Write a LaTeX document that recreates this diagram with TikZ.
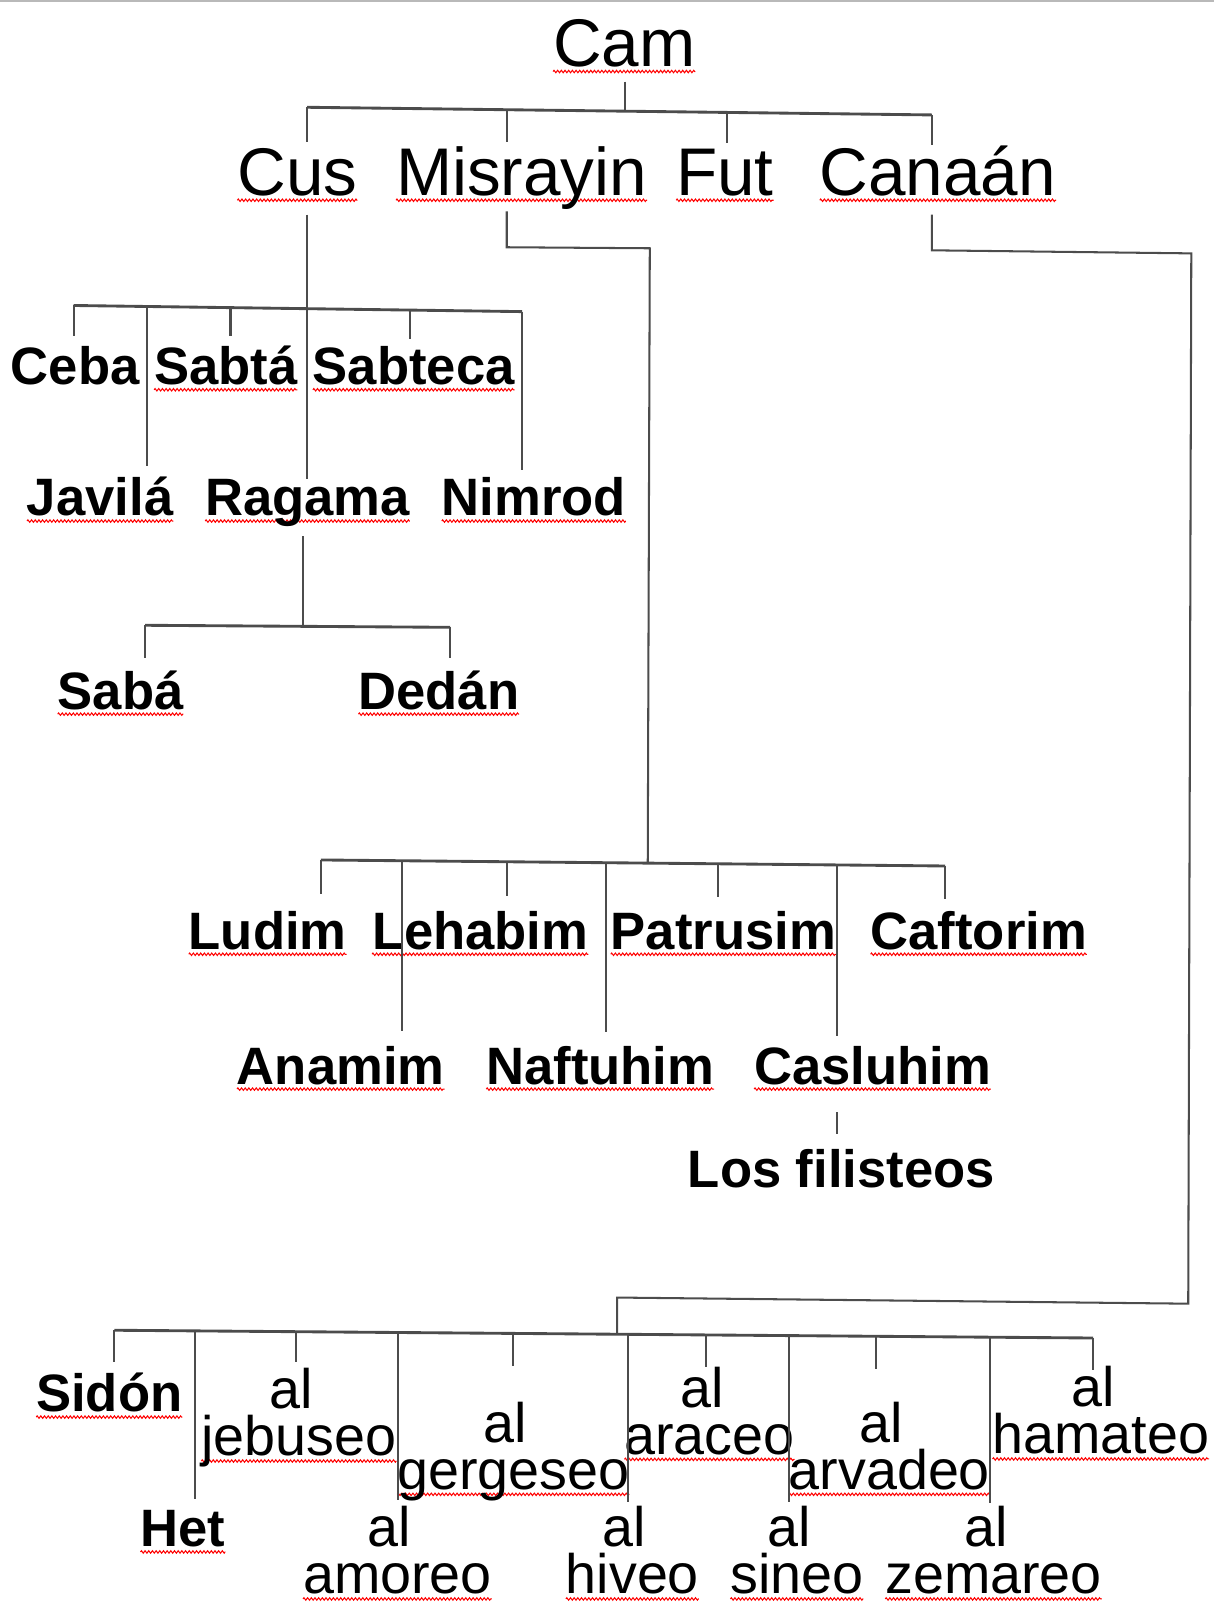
\documentclass[tikz,border=0pt]{standalone}
\usepackage{fontspec}
\setmainfont{Liberation Sans}
\usetikzlibrary{decorations.pathmorphing}
\newsavebox\sqbox
\newlength\sqlen
\tikzset{
  squig/.style={draw=red, line width=1pt, decorate,
    decoration={zigzag, amplitude=1.2pt, segment length=3.6pt}},
  labx/.style={inner sep=0pt, outer sep=0pt, anchor=base, text=black},
  bigtxt/.style={labx, font=\fontsize{66}{70}\selectfont},
  boldtxt/.style={labx, font=\bfseries\fontsize{51.5}{55}\selectfont},
  regtxt/.style={labx, font=\fontsize{54.5}{46}\selectfont},
  connln/.style={draw=black!70, line width=2pt},
  barln/.style={draw=black!70, line width=2.8pt},
}
\newcommand\sqw[1]{\sbox\sqbox{#1}\setlength\sqlen{\wd\sqbox}\leavevmode\rlap{\tikz[baseline=0pt]{\useasboundingbox (0pt,0pt); \path[squig] (0pt,-5pt) -- (\sqlen,-5pt);}}\usebox\sqbox}
\newcommand\twol[2]{\vtop{\baselineskip=46pt\lineskiplimit=-1000pt\halign{\hfil##\hfil\cr #1\kern0.28em\cr #2\cr}}}
\begin{document}
\begin{tikzpicture}[x=1pt,y=-1pt]
\useasboundingbox (0,0) rectangle (1188,1568);
\draw[gray!55, line width=2pt] (0,1) -- (1188,1);
% ---------- labels
\node[bigtxt] (cam) at (611,65) {\sqw{Cam}};
\node[bigtxt] (cus) at (291,191) {\sqw{Cus}};
\node[bigtxt] (mis) at (510.5,191) {\sqw{Misrayin}};
\node[bigtxt] (fut) at (709.5,191) {\sqw{Fut}};
\node[bigtxt] (can) at (918,191) {\sqw{Canaán}};
\node[boldtxt] (ceba) at (73.7,376.5) {Ceba};
\node[boldtxt] (sabta) at (221,376.5) {\sqw{Sabtá}};
\node[boldtxt] (sabteca) at (405,376.5) {\sqw{Sabteca}};
\node[boldtxt] (javila) at (98,505) {\sqw{Javilá}};
\node[boldtxt] (ragama) at (301,505) {\sqw{Ragama}};
\node[boldtxt] (nimrod) at (522.5,505) {\sqw{Nimrod}};
\node[boldtxt] (saba) at (118,694) {\sqw{Sabá}};
\node[boldtxt] (dedan) at (429.5,694) {\sqw{Dedán}};
\node[boldtxt] (ludim) at (262,929) {\sqw{Ludim}};
\node[boldtxt] (lehabim) at (470,929) {\sqw{Lehabim}};
\node[boldtxt] (patrusim) at (708,929) {\sqw{Patrusim}};
\node[boldtxt] (caftorim) at (958,929) {\sqw{Caftorim}};
\node[boldtxt] (anamim) at (333.5,1061) {\sqw{Anamim}};
\node[boldtxt] (naftuhim) at (587.5,1061) {\sqw{Naftuhim}};
\node[boldtxt] (casluhim) at (854,1061) {\sqw{Casluhim}};
\node[boldtxt] (filisteos) at (823.5,1162) {Los filisteos};
\node[boldtxt] (sidon) at (107,1382) {\sqw{Sidón}};
\node[boldtxt] (het) at (179,1514) {\sqw{Het}};
\node[regtxt] (jebuseo) at (292.5,1379) {\twol{al}{\sqw{jebuseo}}};
\node[regtxt] (gergeseo) at (502.5,1411.6) {\twol{al}{\sqw{gergeseo}}};
\node[regtxt] (araceo) at (694.5,1377.4) {\twol{al}{\sqw{araceo}}};
\node[regtxt] (arvadeo) at (870.5,1411.6) {\twol{al}{\sqw{arvadeo}}};
\node[regtxt] (hamateo) at (1077.5,1377) {\twol{al}{\sqw{hamateo}}};
\node[regtxt] (amoreo) at (389,1514) {\twol{al}{\sqw{amoreo}}};
\node[regtxt] (hiveo) at (619,1514) {\twol{al}{\sqw{hiveo}}};
\node[regtxt] (sineo) at (780,1514) {\twol{al}{\sqw{sineo}}};
\node[regtxt] (zemareo) at (972.5,1514) {\twol{al}{\sqw{zemareo}}};
% ---------- Cam
\coordinate (camJ) at (612,108.8);
\coordinate (cusJ) at (300.5,105);
\coordinate (misJ) at (496,107.4);
\coordinate (futJ) at (711.5,110);
\coordinate (canJ) at (912,112.5);
\draw[connln, shorten <=15pt] (cam.base -| camJ) -- (camJ);
\draw[barln] (cusJ) -- (canJ);
\draw[connln, shorten >=52pt] (cusJ) -- (cusJ |- cus.base);
\draw[connln, shorten >=52pt] (misJ) -- (misJ |- mis.base);
\draw[connln, shorten >=51pt] (futJ) -- (futJ |- fut.base);
\draw[connln, shorten >=49pt] (canJ) -- (canJ |- can.base);
% ---------- Cus
\coordinate (cebaJ) at (72,299);
\coordinate (javJ) at (144,300);
\coordinate (sabtaJ) at (225.6,301.1);
\coordinate (ragJ) at (300.5,302.1);
\coordinate (sabtecaJ) at (401,303.5);
\coordinate (nimJ) at (511,305);
\draw[connln, shorten <=19pt, shorten >=36pt] (cus.base -| ragJ) -- (ragJ |- ragama.base);
\draw[barln] (cebaJ) -- (nimJ);
\draw[connln, shorten >=47.5pt] (cebaJ) -- (cebaJ |- ceba.base);
\draw[connln, shorten >=49pt] (javJ) -- (javJ |- javila.base);
\draw[connln, shorten >=47.5pt] (sabtaJ) -- (sabtaJ |- sabta.base);
\draw[connln, shorten >=44.5pt] (sabtecaJ) -- (sabtecaJ |- sabteca.base);
\draw[connln, shorten >=45pt] (nimJ) -- (nimJ |- nimrod.base);
% ---------- Ragama
\coordinate (sabaJ) at (142,612);
\coordinate (ragK) at (297,613);
\coordinate (dedJ) at (440.6,614);
\draw[connln, shorten <=20pt] (ragama.base -| ragK) -- (ragK);
\draw[barln] (sabaJ) -- (dedJ);
\draw[connln, shorten >=50.4pt] (sabaJ) -- (sabaJ |- saba.base);
\draw[connln, shorten >=50.4pt] (dedJ) -- (dedJ |- dedan.base);
% ---------- Misrayin
\coordinate (misK) at (496,242);
\coordinate (misL) at (636,243);
\coordinate (misM) at (634,844.8);
\coordinate (ludJ) at (314,841.7);
\coordinate (anaJ) at (393.6,842.5);
\coordinate (lehJ) at (496,843.5);
\coordinate (nafJ) at (593,844.4);
\coordinate (patJ) at (702.5,845.5);
\coordinate (casJ) at (819,846.6);
\coordinate (cafJ) at (925,847.6);
\draw[connln, shorten <=16pt] (mis.base -| misK) -- (misK) -- (misL) -- (misM);
\draw[barln] (ludJ) -- (cafJ);
\draw[connln, shorten >=54pt] (ludJ) -- (ludJ |- ludim.base);
\draw[connln, shorten >=52pt] (anaJ) -- (anaJ |- anamim.base);
\draw[connln, shorten >=52pt] (lehJ) -- (lehJ |- lehabim.base);
\draw[connln, shorten >=51pt] (nafJ) -- (nafJ |- naftuhim.base);
\draw[connln, shorten >=51pt] (patJ) -- (patJ |- patrusim.base);
\draw[connln, shorten >=47pt] (casJ) -- (casJ |- casluhim.base);
\draw[connln, shorten >=49pt] (cafJ) -- (cafJ |- caftorim.base);
\draw[connln, shorten <=27.6pt, shorten >=52pt] (casluhim.base -| casJ) -- (casJ |- filisteos.base);
% ---------- Canaan
\coordinate (canK) at (912,245);
\coordinate (canL) at (1166,248);
\coordinate (canM) at (1163,1276);
\coordinate (canN) at (604,1270);
\coordinate (canO) at (604,1305.9);
\draw[connln, shorten <=19pt] (can.base -| canK) -- (canK) -- (canL) -- (canM) -- (canN) -- (canO);
\coordinate (sidJ) at (112,1302);
\coordinate (hetJ) at (191,1302.6);
\coordinate (jebJ) at (290,1303.4);
\coordinate (amoJ) at (390,1304.2);
\coordinate (gerJ) at (502,1305.1);
\coordinate (hivJ) at (615,1306);
\coordinate (araJ) at (691,1306.6);
\coordinate (sinJ) at (772,1307.2);
\coordinate (arvJ) at (857.7,1307.9);
\coordinate (zemJ) at (969,1308.8);
\coordinate (hamJ) at (1070,1309.6);
\draw[barln] (sidJ) -- (hamJ);
\draw[connln, shorten >=49pt] (sidJ) -- (sidJ |- sidon.base);
\draw[connln, shorten >=47pt] (hetJ) -- (hetJ |- het.base);
\draw[connln, shorten >=46pt] (jebJ) -- (jebJ |- jebuseo.base);
\draw[connln, shorten >=45.4pt] (amoJ) -- (amoJ |- amoreo.base);
\draw[connln, shorten >=75pt] (gerJ) -- (gerJ |- gergeseo.base);
\draw[connln, shorten >=44pt] (hivJ) -- (hivJ |- hiveo.base);
\draw[connln, shorten >=39.4pt] (araJ) -- (araJ |- araceo.base);
\draw[connln, shorten >=44pt] (sinJ) -- (sinJ |- sineo.base);
\draw[connln, shorten >=71.6pt] (arvJ) -- (arvJ |- arvadeo.base);
\draw[connln, shorten >=43pt] (zemJ) -- (zemJ |- zemareo.base);
\draw[connln, shorten >=36pt] (hamJ) -- (hamJ |- hamateo.base);
\end{tikzpicture}
\end{document}
